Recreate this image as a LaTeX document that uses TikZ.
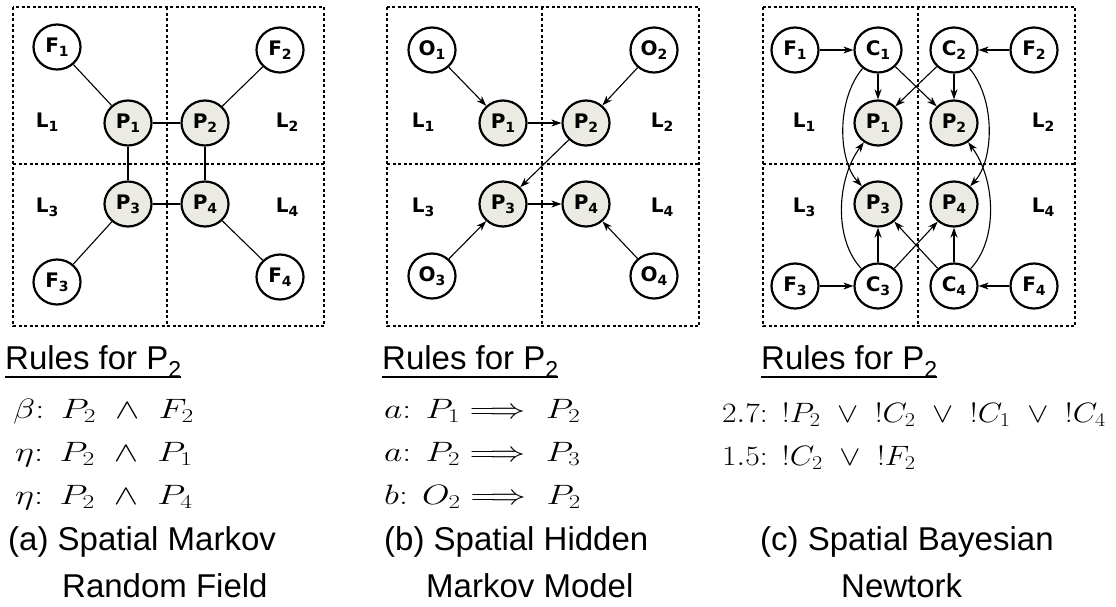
\RequirePackage{fix-cm}
\documentclass[tikz,border=0pt]{standalone}
\usepackage{fontspec}
\usepackage{graphicx}
\newfontfamily\capfont{Liberation Sans}
\newfontfamily\nodefont{DejaVu Sans}
\usetikzlibrary{arrows.meta,shapes.geometric,calc}
\definecolor{pfill}{RGB}{235,235,227}
% subscripts inside the circles and in the headings
\newcommand\nsub[1]{\raisebox{-0.35ex}{\fontsize{14}{14}\selectfont #1}}
\newcommand\rsub[1]{\raisebox{-0.27em}{\fontsize{23}{23}\selectfont #1}}
\tikzset{
  var/.style={ellipse, draw, line width=2.2pt, minimum width=47pt, minimum height=45pt,
    inner sep=0pt, fill=white, font=\nodefont\bfseries\fontsize{20}{24}\selectfont},
  pvar/.style={var, fill=pfill},
  region/.style={inner sep=0pt, font=\nodefont\bfseries\fontsize{20}{24}\selectfont},
  cell/.style={line width=1.3pt, dash pattern=on 3pt off 2.5pt},
  link/.style={line width=1.1pt},
  thicklink/.style={line width=1.6pt},
  arr/.style={link, -{Stealth[length=10pt,width=7pt,inset=3pt]}},
  heading/.style={anchor=base west, inner sep=0pt, font=\capfont\fontsize{33}{38}\selectfont},
  capline/.style={heading},
  formula/.style={anchor=base west, inner sep=0pt, font=\fontsize{28}{32}\selectfont},
  uline/.style={line width=1.8pt},
}
\begin{document}
\begin{tikzpicture}[x=1pt,y=-1pt]
\useasboundingbox (0,0) rectangle (1116,606);

% ---------------- (a) spatial Markov random field ----------------
\draw[cell] (13,7) rectangle (324,326);
\draw[cell] (167,7) -- (167,326);
\draw[cell] (13,164) -- (324,164);
\node[region] (aL1) at (47,122) {L\nsub{1}};
\node[region] (aL2) at (287,122) {L\nsub{2}};
\node[region] (aL3) at (47,207) {L\nsub{3}};
\node[region] (aL4) at (287,207) {L\nsub{4}};
\node[var] (aF1) at (57,47) {F\nsub{1}};
\node[var] (aF2) at (280,50) {F\nsub{2}};
\node[var] (aF3) at (57,282) {F\nsub{3}};
\node[var] (aF4) at (280,277) {F\nsub{4}};
\node[pvar] (aP1) at (128,123) {P\nsub{1}};
\node[pvar] (aP2) at (205,123) {P\nsub{2}};
\node[pvar] (aP3) at (128,204) {P\nsub{3}};
\node[pvar] (aP4) at (205,204) {P\nsub{4}};
\draw[link] (aF1) -- (aP1);
\draw[link] (aF2) -- (aP2);
\draw[link] (aF3) -- (aP3);
\draw[link] (aF4) -- (aP4);
\draw[link] (aP1) -- (aP2);
\draw[thicklink] (aP1) -- (aP3);
\draw[thicklink] (aP2) -- (aP4);
\draw[link] (aP3) -- (aP4);

% ---------------- (b) spatial hidden Markov model ----------------
\draw[cell] (387,7) rectangle (699,326);
\draw[cell] (542,7) -- (542,326);
\draw[cell] (387,164) -- (699,164);
\node[region] (bL1) at (423,122) {L\nsub{1}};
\node[region] (bL2) at (662,122) {L\nsub{2}};
\node[region] (bL3) at (423,207) {L\nsub{3}};
\node[region] (bL4) at (662,207) {L\nsub{4}};
\node[var] (bO1) at (432,50) {O\nsub{1}};
\node[var] (bO2) at (654,50) {O\nsub{2}};
\node[var] (bO3) at (432,276) {O\nsub{3}};
\node[var] (bO4) at (654,276) {O\nsub{4}};
\node[pvar] (bP1) at (503,123) {P\nsub{1}};
\node[pvar] (bP2) at (586,123) {P\nsub{2}};
\node[pvar] (bP3) at (503,204) {P\nsub{3}};
\node[pvar] (bP4) at (586,204) {P\nsub{4}};
\draw[arr] (bO1) -- (bP1);
\draw[arr] (bO2) -- (bP2);
\draw[arr] (bO3) -- (bP3);
\draw[arr] (bO4) -- (bP4);
\draw[arr] (bP1) -- (bP2);
\draw[arr] (bP2) -- (bP3);
\draw[arr] (bP3) -- (bP4);

% ---------------- (c) spatial Bayesian network ----------------
\draw[cell] (763,7) rectangle (1075,326);
\draw[cell] (918,7) -- (918,326);
\draw[cell] (763,164) -- (1075,164);
\node[region] (cL1) at (804,122) {L\nsub{1}};
\node[region] (cL2) at (1043,122) {L\nsub{2}};
\node[region] (cL3) at (804,207) {L\nsub{3}};
\node[region] (cL4) at (1043,207) {L\nsub{4}};
\node[var] (cF1) at (795,50) {F\nsub{1}};
\node[var] (cC1) at (878,50) {C\nsub{1}};
\node[var] (cC2) at (954,50) {C\nsub{2}};
\node[var] (cF2) at (1034,50) {F\nsub{2}};
\node[var] (cF3) at (795,286) {F\nsub{3}};
\node[var] (cC3) at (878,286) {C\nsub{3}};
\node[var] (cC4) at (954,286) {C\nsub{4}};
\node[var] (cF4) at (1034,286) {F\nsub{4}};
\node[pvar] (cP1) at (878,123) {P\nsub{1}};
\node[pvar] (cP2) at (954,123) {P\nsub{2}};
\node[pvar] (cP3) at (878,204) {P\nsub{3}};
\node[pvar] (cP4) at (954,204) {P\nsub{4}};
\draw[arr] (cF1) -- (cC1);
\draw[arr] (cF2) -- (cC2);
\draw[arr] (cF3) -- (cC3);
\draw[arr] (cF4) -- (cC4);
\draw[arr, thicklink] (cC1) -- (cP1);
\draw[arr] (cC1) -- (cP2);
\draw[arr] (cC2) -- (cP1);
\draw[arr, thicklink] (cC2) -- (cP2);
\draw[arr, thicklink] (cC3) -- (cP3);
\draw[arr] (cC3) -- (cP4);
\draw[arr] (cC4) -- (cP3);
\draw[arr, thicklink] (cC4) -- (cP4);
\draw[arr] (cC1) .. controls (836,100) and (838,160) .. (cP3);
\draw[arr] (cC3) .. controls (834,240) and (836,180) .. (cP1);
\draw[arr] (cC2) .. controls (996,100) and (994,160) .. (cP4);
\draw[arr] (cC4) .. controls (998,240) and (996,180) .. (cP2);

% ---------------- rules and captions ----------------
\node[heading] (ra) at (5,369) {Rules for P\rsub{2}};
\draw[uline] ($(ra.base west)+(0,8)$) -- ($(ra.base east)+(0,8)$);
\node[formula] (ra1) at (13,418) {\scalebox{1.3}[1]{$\beta$:\hspace{.45em}$P_2\ \wedge\ F_2$}};
\node[formula] (ra2) at (15,461) {\scalebox{1.3}[1]{$\eta$:\hspace{.45em}$P_2\ \wedge\ P_1$}};
\node[formula] (ra3) at (15,504) {\scalebox{1.3}[1]{$\eta$:\hspace{.45em}$P_2\ \wedge\ P_4$}};
\node[capline] (ca1) at (8,550) {(a) Spatial Markov};
\node[capline] (ca2) at (62,597) {Random Field};

\node[heading] (rb) at (382,369) {Rules for P\rsub{2}};
\draw[uline] ($(rb.base west)+(0,8)$) -- ($(rb.base east)+(0,8)$);
\node[formula] (rb1) at (384,418) {\scalebox{1.27}[1]{$a$:\hspace{.4em}$P_1\Longrightarrow\ P_2$}};
\node[formula] (rb2) at (384,461) {\scalebox{1.27}[1]{$a$:\hspace{.4em}$P_2\Longrightarrow\ P_3$}};
\node[formula] (rb3) at (384,504) {\scalebox{1.27}[1]{$b$:\hspace{.4em}$O_2\Longrightarrow\ P_2$}};
\node[capline] (cb1) at (384,550) {(b) Spatial Hidden};
\node[capline] (cb2) at (426,597) {Markov Model};

\node[heading] (rc) at (761,369) {Rules for P\rsub{2}};
\draw[uline] ($(rc.base west)+(0,8)$) -- ($(rc.base east)+(0,8)$);
\node[formula] (rc1) at (722,422) {\scalebox{1.13}[1]{$2.7$:\hspace{.45em}${!}P_2\ \vee\ {!}C_2\ \vee\ {!}C_1\ \vee\ {!}C_4$}};
\node[formula] (rc2) at (722,465) {\scalebox{1.13}[1]{$1.5$:\hspace{.45em}${!}C_2\ \vee\ {!}F_2$}};
\node[capline] (cc1) at (760,550) {(c) Spatial Bayesian};
\node[capline] (cc2) at (841,597) {Newtork};
\end{tikzpicture}
\end{document}
